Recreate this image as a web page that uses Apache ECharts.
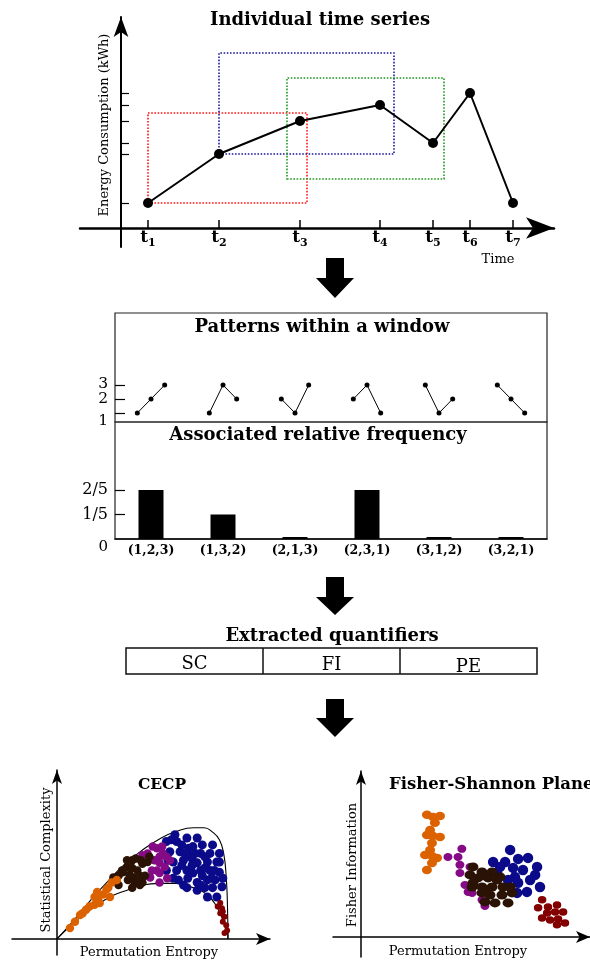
<!DOCTYPE html>
<html>
<head>
<meta charset="utf-8">
<script src="https://cdn.jsdelivr.net/npm/echarts@6/dist/echarts.min.js"></script>
<style>
  html, body { margin: 0; padding: 0; background: #fff; }
  #chart { width: 590px; height: 962px; }
</style>
</head>
<body>
<div id="chart"></div>
<script>
// ---------- Individual time series ----------
const timeLabels = ['1', '2', '3', '4', '5', '6', '7'];
const timeValues = [2.7, 9.8, 17.9, 25.9, 31.2, 34.9, 39.2];
const energyValues = [2.5, 7.4, 10.7, 12.3, 8.5, 13.5, 2.5];
// sliding windows (time span, energy span)
const windowTime = [[2.7, 18.6], [9.8, 27.3], [16.6, 32.3]];
const windowEnergy = [[2.5, 11.5], [7.4, 17.5], [4.9, 15.0]];
const windowColors = ['#ff1414', '#1c1c9e', '#1e9a1e'];

// ---------- Ordinal patterns and their relative frequency ----------
const ordinalPatterns = [[1, 2, 3], [1, 3, 2], [2, 1, 3], [2, 3, 1], [3, 1, 2], [3, 2, 1]];
const patternFrequency = [0.4, 0.2, 0, 0.4, 0, 0];
const frequencyTicks = [0, 0.2, 0.4];
const frequencyTickLabels = ['0', '1/5', '2/5'];
const rankTicks = [1, 2, 3];

// ---------- Quantifiers ----------
const quantifiers = ['SC', 'FI', 'PE'];

// ---------- Complexity-entropy causality plane (H, C) ----------
const cecpUpper = [[0, 0], [0.1, 0.11], [0.2, 0.23], [0.3, 0.34], [0.4, 0.44], [0.5, 0.52], [0.6, 0.585],
  [0.7, 0.63], [0.8, 0.65], [0.86, 0.65], [0.91, 0.625], [0.95, 0.58], [0.975, 0.5], [0.99, 0.36],
  [0.997, 0.2], [1, 0]];
const cecpLower = [[0, 0], [0.117, 0.11], [0.21, 0.18], [0.31, 0.245], [0.41, 0.285], [0.5, 0.315],
  [0.6, 0.325], [0.7, 0.325], [0.795, 0.3], [0.88, 0.257], [0.935, 0.187], [0.97, 0.11], [1, 0.023], [1, 0]];
const cecpOrange = [[0.076, 0.064], [0.105, 0.1], [0.135, 0.14], [0.15, 0.15], [0.17, 0.17], [0.19, 0.19],
  [0.22, 0.2], [0.22, 0.245], [0.235, 0.275], [0.24, 0.23], [0.25, 0.21], [0.27, 0.26], [0.29, 0.29],
  [0.3, 0.3], [0.31, 0.245], [0.32, 0.33], [0.35, 0.345]];
const cecpBrown = [[0.33, 0.36], [0.36, 0.37], [0.38, 0.4], [0.41, 0.42], [0.44, 0.46], [0.46, 0.47],
  [0.49, 0.46], [0.5, 0.44], [0.53, 0.45], [0.54, 0.48], [0.44, 0.415], [0.47, 0.4], [0.485, 0.37],
  [0.515, 0.37], [0.445, 0.36], [0.415, 0.345], [0.455, 0.33], [0.485, 0.315], [0.44, 0.3],
  [0.36, 0.315], [0.385, 0.39], [0.425, 0.375], [0.5, 0.33], [0.475, 0.355], [0.41, 0.46]];
const cecpPurple = [[0.5, 0.49], [0.53, 0.5], [0.56, 0.54], [0.585, 0.53], [0.615, 0.54], [0.62, 0.5],
  [0.6, 0.48], [0.64, 0.48], [0.57, 0.46], [0.6, 0.445], [0.63, 0.42], [0.585, 0.4], [0.555, 0.4],
  [0.545, 0.36], [0.6, 0.385], [0.645, 0.355], [0.6, 0.33], [0.66, 0.46]];
const cecpBlue = [[0.69, 0.61], [0.64, 0.57], [0.7, 0.57], [0.76, 0.59], [0.82, 0.59], [0.85, 0.55],
  [0.91, 0.55], [0.66, 0.51], [0.72, 0.51], [0.77, 0.53], [0.795, 0.54], [0.84, 0.5], [0.895, 0.5],
  [0.95, 0.5], [0.68, 0.45], [0.74, 0.46], [0.79, 0.47], [0.82, 0.445], [0.88, 0.45], [0.935, 0.45],
  [0.7, 0.4], [0.76, 0.4], [0.795, 0.385], [0.84, 0.4], [0.895, 0.4], [0.95, 0.39], [0.71, 0.345],
  [0.765, 0.355], [0.82, 0.33], [0.88, 0.345], [0.925, 0.345], [0.97, 0.355], [0.76, 0.3],
  [0.82, 0.285], [0.865, 0.3], [0.91, 0.3], [0.965, 0.305], [0.935, 0.245], [0.88, 0.245],
  [0.73, 0.55], [0.67, 0.58], [0.78, 0.485], [0.865, 0.48], [0.92, 0.4], [0.73, 0.43], [0.85, 0.37],
  [0.79, 0.43], [0.65, 0.46], [0.64, 0.4], [0.68, 0.355], [0.74, 0.315], [0.905, 0.355], [0.84, 0.315],
  [0.95, 0.45], [0.81, 0.5], [0.75, 0.5], [0.865, 0.415]];
const cecpMaroon = [[0.955, 0.21], [0.965, 0.18], [0.97, 0.16], [0.955, 0.15], [0.98, 0.13], [0.97, 0.1],
  [0.99, 0.08], [0.995, 0.05], [0.98, 0.035], [0.94, 0.19]];

// ---------- Fisher-Shannon plane (H, F) ----------
const fsOrange = [[0.314, 0.718], [0.343, 0.706], [0.376, 0.712], [0.352, 0.671], [0.329, 0.629],
  [0.314, 0.6], [0.343, 0.594], [0.376, 0.588], [0.338, 0.553], [0.329, 0.512], [0.305, 0.482],
  [0.338, 0.476], [0.362, 0.465], [0.338, 0.435], [0.314, 0.394]];
const fsPurple = [[0.414, 0.47], [0.462, 0.47], [0.48, 0.518], [0.471, 0.424], [0.471, 0.376],
  [0.519, 0.412], [0.51, 0.265], [0.529, 0.259], [0.576, 0.218], [0.59, 0.182], [0.495, 0.306]];
const fsBlue = [[0.71, 0.512], [0.748, 0.459], [0.795, 0.465], [0.629, 0.441], [0.686, 0.441],
  [0.838, 0.412], [0.724, 0.406], [0.771, 0.394], [0.829, 0.365], [0.733, 0.353], [0.805, 0.335],
  [0.748, 0.318], [0.852, 0.294], [0.79, 0.265], [0.743, 0.259], [0.7, 0.335], [0.662, 0.412],
  [0.648, 0.376]];
const fsBrown = [[0.533, 0.412], [0.576, 0.382], [0.624, 0.382], [0.519, 0.365], [0.557, 0.347],
  [0.605, 0.347], [0.662, 0.353], [0.529, 0.294], [0.576, 0.294], [0.624, 0.294], [0.676, 0.294],
  [0.576, 0.259], [0.614, 0.247], [0.671, 0.247], [0.719, 0.259], [0.59, 0.206], [0.638, 0.2],
  [0.7, 0.2], [0.533, 0.318], [0.648, 0.335], [0.6, 0.276], [0.71, 0.294]];
const fsMaroon = [[0.862, 0.218], [0.89, 0.176], [0.933, 0.188], [0.843, 0.171], [0.886, 0.141],
  [0.924, 0.147], [0.962, 0.147], [0.862, 0.112], [0.9, 0.1], [0.938, 0.106], [0.971, 0.082],
  [0.933, 0.071]];

const clusterColors = { orange: '#dc6200', brown: '#2a1204', purple: '#850a85', blue: '#0a0a8a', maroon: '#830000' };

const FONT = '"DejaVu Serif"';
const chart = echarts.init(document.getElementById('chart'), null, { renderer: 'canvas' });

const energyTicks = Array.from(new Set(energyValues));
const patternNames = ordinalPatterns.map(p => '(' + p.join(',') + ')');

function nearestIndex(arr, v) {
  let best = 0;
  arr.forEach((a, i) => { if (Math.abs(a - v) < Math.abs(arr[best] - v)) best = i; });
  return best;
}

function plainAxis(gridIndex, min, max, extra) {
  return Object.assign({
    type: 'value', gridIndex, min, max,
    axisTick: { show: false }, axisLabel: { show: false }, splitLine: { show: false }
  }, extra);
}

function arrowLine(width, size) {
  return { onZero: true, symbol: ['none', 'arrow'], symbolSize: size, lineStyle: { color: '#000', width } };
}

function scatter(x, y, data, color, size, z) {
  return { type: 'scatter', xAxisIndex: x, yAxisIndex: y, data, symbol: 'circle', symbolSize: size,
    itemStyle: { color, opacity: 1 }, z: z || 3, silent: true };
}

function smoothCurve(x, y, data) {
  return { type: 'line', xAxisIndex: x, yAxisIndex: y, data, smooth: 0.5, showSymbol: false, symbol: 'none',
    lineStyle: { color: '#000', width: 1.1 }, z: 2, silent: true };
}

// small ordinal-pattern sketches, centred on each category slot
const patternSeries = ordinalPatterns.map((p, i) => ({
  type: 'line', xAxisIndex: 1, yAxisIndex: 1,
  data: p.map((r, k) => [i + 0.5 + (k - 1) * 0.19, r]),
  symbol: 'circle', symbolSize: 5, itemStyle: { color: '#000' },
  lineStyle: { color: '#000', width: 1 }, silent: true
}));

function titleText(text, x, y, size, align) {
  return { type: 'text', x, y, silent: true,
    style: { text, font: 'bold ' + size + 'px ' + FONT, fill: '#000', align: align || 'center', verticalAlign: 'middle' } };
}
function plainText(text, x, y, size, rotation, align) {
  return { type: 'text', x, y, rotation: rotation || 0, silent: true,
    style: { text, font: size + 'px ' + FONT, fill: '#000', align: align || 'center', verticalAlign: 'middle' } };
}
function downArrow(top, base, tip) {
  return { type: 'polygon', silent: true,
    shape: { points: [[326, top], [344, top], [344, base], [354, base], [335, tip], [316, base], [326, base]] },
    style: { fill: '#000' } };
}

// rank labels beside the pattern panel (the lowest one sits on the panel divider)
const rankLabelY = [421, 399, 384];
const rankLabels = rankTicks.map((r, i) => plainText(String(r), 108, rankLabelY[i], 15.5, 0, 'right'));

// table of extracted quantifiers
const tableLeft = 126, tableRight = 537, tableTop = 648, tableBottom = 674;
const cellWidth = (tableRight - tableLeft) / quantifiers.length;
const tableGraphics = [
  { type: 'rect', silent: true, shape: { x: tableLeft, y: tableTop, width: tableRight - tableLeft, height: tableBottom - tableTop },
    style: { fill: 'none', stroke: '#111', lineWidth: 1.5 } }
];
quantifiers.forEach((q, i) => {
  if (i > 0) {
    const x = Math.round(tableLeft + i * cellWidth);
    tableGraphics.push({ type: 'line', silent: true, shape: { x1: x, y1: tableTop, x2: x, y2: tableBottom },
      style: { stroke: '#111', lineWidth: 1.5 } });
  }
  tableGraphics.push(plainText(q, tableLeft + (i + 0.5) * cellWidth, 664 + i * 1.5, 18));
});

const option = {
  animation: false,
  backgroundColor: '#fff',
  textStyle: { fontFamily: FONT },
  grid: [
    { left: 80, right: 36, top: 17, bottom: 715 },
    { left: 115, right: 43, top: 313, height: 109, show: true, borderColor: '#222', borderWidth: 1.2, backgroundColor: 'transparent' },
    { left: 115, right: 43, top: 422, height: 117, show: true, borderColor: '#222', borderWidth: 1.2, backgroundColor: 'transparent' },
    { left: 12, right: 320, top: 770, bottom: 7 },
    { left: 333, right: 0, top: 771, bottom: 5 }
  ],
  xAxis: [
    {
      type: 'value', gridIndex: 0, min: -4.1, max: 43.3,
      axisLine: arrowLine(2.5, [16, 28]),
      axisTick: { show: true, inside: true, length: 8, customValues: timeValues, lineStyle: { color: '#000', width: 1.5 } },
      axisLabel: { show: true, customValues: timeValues, margin: -18, hideOverlap: false,
        formatter: v => '{t|t}{s|' + timeLabels[nearestIndex(timeValues, v)] + '}',
        rich: {
          t: { fontFamily: FONT, fontWeight: 'bold', fontSize: 17, lineHeight: 18, verticalAlign: 'top', color: '#000' },
          s: { fontFamily: FONT, fontWeight: 'bold', fontSize: 11, lineHeight: 11, padding: [10, 0, 0, 0], color: '#000' }
        },
        fontFamily: FONT, fontWeight: 'bold', fontSize: 17, color: '#000' },
      splitLine: { show: false }
    },
    plainAxis(1, 0, 6, { show: false }),
    {
      type: 'category', gridIndex: 2, data: patternNames,
      axisLine: { lineStyle: { color: '#000', width: 1.5 } },
      axisTick: { show: false },
      axisLabel: { margin: 5, interval: 0, hideOverlap: false, fontFamily: FONT, fontWeight: 'bold', fontSize: 12.5, color: '#000' }
    },
    plainAxis(3, -0.263, 1.246, { axisLine: arrowLine(1.5, [9, 14]) }),
    plainAxis(4, -0.133, 1.09, { axisLine: arrowLine(1.5, [9, 14]) })
  ],
  yAxis: [
    {
      type: 'value', gridIndex: 0, min: -1.9, max: 21.1,
      axisLine: arrowLine(2, [11, 20]),
      axisTick: { show: true, inside: true, length: 8, customValues: energyTicks, lineStyle: { color: '#000', width: 1.2 } },
      axisLabel: { show: false },
      splitLine: { show: false }
    },
    {
      type: 'value', gridIndex: 1, min: 0.357, max: 8.143,
      axisLine: { show: false },
      axisTick: { show: true, inside: true, length: 10, customValues: rankTicks, lineStyle: { color: '#000', width: 1.2 } },
      axisLabel: { show: false },
      splitLine: { show: false }
    },
    {
      type: 'value', gridIndex: 2, min: 0, max: 0.955,
      axisLine: { show: false },
      axisTick: { show: true, inside: true, length: 10, customValues: frequencyTicks.slice(1), lineStyle: { color: '#000', width: 1.2 } },
      axisLabel: { show: true, customValues: frequencyTicks, margin: 7, hideOverlap: false,
        formatter: v => {
          const t = frequencyTickLabels[nearestIndex(frequencyTicks, v)];
          return v === 0 ? '{z|' + t + '}' : t;
        },
        rich: { z: { padding: [16, 0, 0, 0], fontSize: 15, fontFamily: FONT, color: '#000' } },
        fontFamily: FONT, fontSize: 16, color: '#000' },
      splitLine: { show: false }
    },
    plainAxis(3, -0.094, 0.988, { axisLine: arrowLine(1.5, [7.5, 14]) }),
    plainAxis(4, -0.118, 0.976, { axisLine: arrowLine(1.5, [7.5, 14]) })
  ],
  series: [
    {
      type: 'line', xAxisIndex: 0, yAxisIndex: 0,
      data: timeValues.map((t, i) => [t, energyValues[i]]),
      symbol: 'circle', symbolSize: 10, itemStyle: { color: '#000' },
      lineStyle: { color: '#000', width: 2 }, z: 4, silent: true,
      markArea: {
        silent: true,
        data: windowTime.map((span, i) => [
          { xAxis: span[0], yAxis: windowEnergy[i][0],
            itemStyle: { color: 'rgba(0,0,0,0)', borderColor: windowColors[i], borderWidth: 1.6, borderType: [1.6, 1.6] } },
          { xAxis: span[1], yAxis: windowEnergy[i][1] }
        ])
      }
    },
    ...patternSeries,
    {
      type: 'bar', xAxisIndex: 2, yAxisIndex: 2, data: patternFrequency,
      barWidth: 25, barMinHeight: 2, itemStyle: { color: '#000' }, silent: true
    },
    smoothCurve(3, 3, cecpUpper),
    smoothCurve(3, 3, cecpLower),
    scatter(3, 3, cecpBlue, clusterColors.blue, 9),
    scatter(3, 3, cecpPurple, clusterColors.purple, 8.5),
    scatter(3, 3, cecpBrown, clusterColors.brown, 8.5),
    scatter(3, 3, cecpOrange, clusterColors.orange, 8.5),
    scatter(3, 3, cecpMaroon, clusterColors.maroon, 6),
    scatter(4, 4, fsOrange, clusterColors.orange, [10, 8.5]),
    scatter(4, 4, fsPurple, clusterColors.purple, [9, 8]),
    scatter(4, 4, fsBlue, clusterColors.blue, 10.5),
    scatter(4, 4, fsBrown, clusterColors.brown, [11, 9]),
    scatter(4, 4, fsMaroon, clusterColors.maroon, [8.5, 7.5])
  ],
  graphic: [
    titleText('Individual time series', 320, 20, 18),
    plainText('Energy Consumption (kWh)', 105, 125, 13, Math.PI / 2),
    plainText('Time', 498, 260, 13),
    downArrow(258, 278, 298),
    titleText('Patterns within a window', 322, 327, 18),
    ...rankLabels,
    titleText('Associated relative frequency', 318, 435, 18),
    downArrow(577, 597, 615),
    titleText('Extracted quantifiers', 332, 636, 18),
    ...tableGraphics,
    downArrow(699, 718, 737),
    titleText('CECP', 162, 785, 15.5),
    plainText('Statistical Complexity', 47, 860, 13, Math.PI / 2),
    plainText('Permutation Entropy', 149, 953, 13),
    titleText('Fisher-Shannon Plane', 389, 785, 16.5, 'left'),
    plainText('Fisher Information', 353, 865, 13, Math.PI / 2),
    plainText('Permutation Entropy', 458, 952, 13)
  ]
};

chart.setOption(option);
</script>
</body>
</html>
